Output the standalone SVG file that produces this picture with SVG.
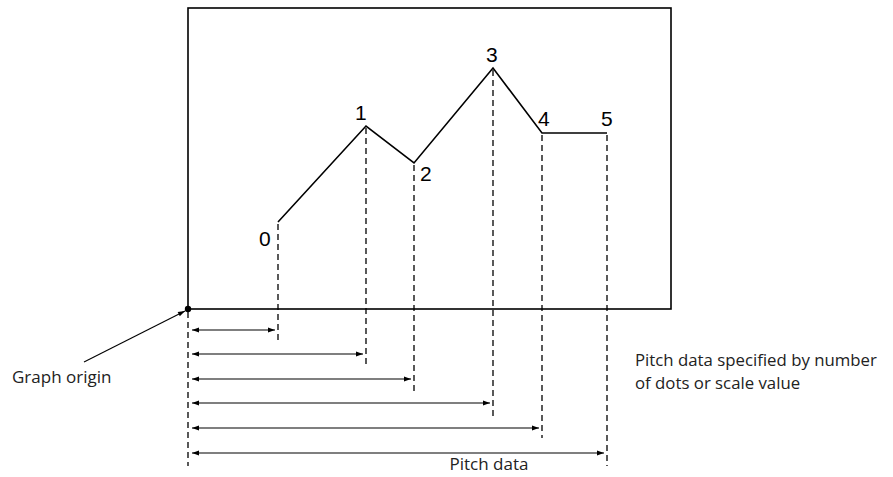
<svg xmlns="http://www.w3.org/2000/svg" width="893" height="477" viewBox="0 0 893 477">
<style>
.solid{stroke:#000;stroke-width:1.6;fill:none}
.dash{stroke:#000;stroke-width:1.3;stroke-dasharray:6,4;fill:none}
.dim{stroke:#000;stroke-width:1.1;fill:none;marker-start:url(#ah);marker-end:url(#ah)}
.num{font-family:"Liberation Sans",Arial,sans-serif;font-size:21px;fill:#000}
.lbl{font-family:"Open Sans","Noto Sans",sans-serif;font-size:17px;fill:#222}
.note{font-family:"Open Sans","Noto Sans",sans-serif;font-size:16.8px;fill:#222}
</style>
<defs>
<marker id="ah" viewBox="0 0 10 10" refX="10" refY="5" markerWidth="11" markerHeight="7" orient="auto-start-reverse" markerUnits="userSpaceOnUse">
<path d="M0,1.5 L10,5 L0,8.5 Z" fill="#000"/>
</marker>
</defs>
<g id="frame">
<rect x="188" y="8" width="483" height="301" class="solid" stroke-width="1.3"/>
<circle cx="188" cy="309" r="3.2" fill="#000"/>
</g>
<g id="graph">
<polyline class="solid" points="278,222 366,126 414,163 493,68 542,133 607,133"/>
<text class="num" x="259" y="246">0</text>
<text class="num" x="355" y="120">1</text>
<text class="num" x="420" y="181">2</text>
<text class="num" x="486" y="62">3</text>
<text class="num" x="538" y="126">4</text>
<text class="num" x="601" y="126">5</text>
</g>
<g id="connectors">
<line class="dash" x1="188" y1="312" x2="188" y2="466"/>
<line class="dash" x1="278" y1="224" x2="278" y2="344"/>
<line class="dash" x1="366" y1="128" x2="366" y2="367"/>
<line class="dash" x1="414" y1="165" x2="414" y2="393"/>
<line class="dash" x1="493" y1="70" x2="493" y2="416"/>
<line class="dash" x1="542" y1="135" x2="542" y2="438"/>
<line class="dash" x1="607" y1="135" x2="607" y2="466"/>
<line class="dim" x1="192" y1="330" x2="275" y2="330"/>
<line class="dim" x1="192" y1="354" x2="363" y2="354"/>
<line class="dim" x1="192" y1="379" x2="411" y2="379"/>
<line class="dim" x1="192" y1="403" x2="490" y2="403"/>
<line class="dim" x1="192" y1="428" x2="539" y2="428"/>
<line class="dim" x1="192" y1="453" x2="604" y2="453"/>
<line x1="84" y1="362" x2="185" y2="311" stroke="#000" stroke-width="1.1" marker-end="url(#ah)"/>
</g>
<g id="labels">
<text class="lbl" x="12" y="383">Graph origin</text>
<text class="lbl" x="489" y="470" text-anchor="middle">Pitch data</text>
<text class="note" x="635" y="366">Pitch data specified by number</text>
<text class="note" x="635" y="389">of dots or scale value</text>
</g>
</svg>
